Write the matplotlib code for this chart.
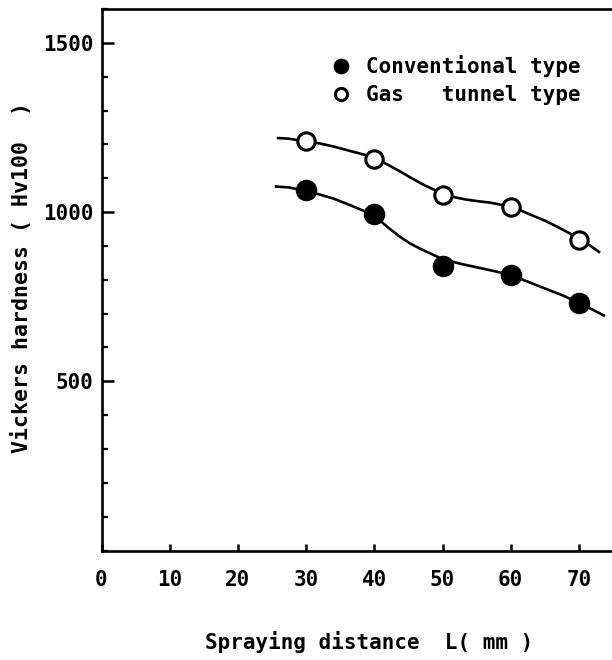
import matplotlib
matplotlib.use('Agg')
import matplotlib.pyplot as plt
from matplotlib.ticker import MultipleLocator

# measured points (spraying distance mm, Vickers hardness)
dist=[30,40,50,60,70]
conv=[1064,993,840,813,730]
gas=[1209,1158,1052,1014,917]
# hand-drawn curves
gas_cx=[25.7,27.5,29.8,32.0,34.0,36.4,38.5,40.2,42.0,43.8,45.5,47.2,49.0,50.4,52.0,53.5,55.3,57.0,58.6,60.1,61.7,63.3,65.0,66.7,68.5,70.4,71.8,73.1]
gas_cy=[1219,1217,1209,1203,1194,1181,1170,1158,1140,1120,1100,1081,1064,1052,1043,1037,1032,1028,1022,1014,1003,989,975,958,939,917,899,880]
conv_cx=[25.4,27.5,29.6,32.0,34.0,36.4,38.2,39.8,41.0,42.3,43.7,45.2,46.7,48.2,49.9,52.5,55.0,57.5,59.9,62.3,64.8,67.5,70.1,72.0,73.8]
conv_cy=[1076,1073,1064,1052,1040,1021,1006,993,972,950,928,908,892,878,862,848,837,826,815,796,776,755,731,712,693]
xticks=[0,10,20,30,40,50,60,70]
yticks=[500,1000,1500]

FONT='DejaVu Sans Mono'
plt.rcParams['font.family']=[FONT,'DejaVu Sans']
plt.rcParams['font.size']=15
plt.rcParams['font.weight']='bold'

fig=plt.figure(figsize=(6.12,6.6),dpi=100)
ax=fig.add_axes([101.5/612,1-550.5/660,511.5/612,541.4/660])
ax.plot(gas_cx,gas_cy,color='k',lw=1.9,solid_joinstyle='round',solid_capstyle='butt',zorder=2)
ax.plot(conv_cx,conv_cy,color='k',lw=1.9,solid_joinstyle='round',solid_capstyle='butt',zorder=2)
ax.plot(dist,conv,'o',ms=14,mfc='k',mec='k',mew=1.5,ls='none',label='Conventional type',zorder=3)
ax.plot(dist,gas,'o',ms=12.5,mfc='white',mec='k',mew=2.2,ls='none',label='Gas   tunnel type',zorder=3)

ax.set_xlim(0,75); ax.set_ylim(0,1600)
ax.set_xticks(xticks); ax.set_yticks(yticks)
ax.yaxis.set_minor_locator(MultipleLocator(100))
ax.tick_params(axis='x',which='major',direction='in',length=5,width=1.8,pad=14,labelsize=15)
ax.tick_params(axis='y',which='major',direction='in',length=8.5,width=1.8,pad=5.5,labelsize=15)
ax.tick_params(axis='y',which='minor',direction='in',length=4.3,width=1.6)
ax.spines['right'].set_visible(False)
for s in ['left','bottom','top']: ax.spines[s].set_linewidth(1.9)

leg=ax.legend(loc='upper left',bbox_to_anchor=(331/612,1-55/660),bbox_transform=fig.transFigure,
              frameon=False,borderpad=0,borderaxespad=0,handlelength=1.0,handletextpad=0.7,
              labelspacing=0.38,markerscale=0.7,prop={'family':FONT,'size':15,'weight':'bold'})

fig.text(22/612,1-278/660,'Vickers hardness ( Hv100  )',rotation=90,ha='center',va='center',fontsize=15.5)
fig.text(369/612,1-642/660,'Spraying distance  L( mm )',ha='center',va='center',fontsize=15)

fig.savefig('out.png',dpi=100)
